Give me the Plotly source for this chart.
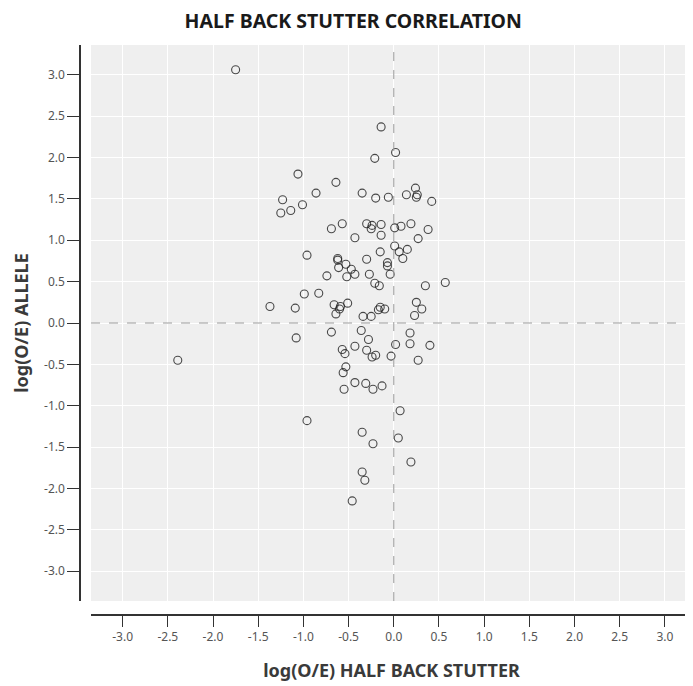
import plotly.graph_objects as go

# log(O/E) HALF BACK STUTTER
stutter = [-1.75, -0.14, -0.21, 0.02, -1.06, -0.64, -0.86, -1.23, -1.01, -1.25,
           -1.14, -0.35, -0.20, -0.06, 0.14, 0.24, 0.26, 0.25, 0.42, -0.69,
           -0.57, -0.30, -0.24, -0.25, -0.14, -0.14, 0.01, 0.08, 0.19, 0.38,
           0.27, -0.43, -0.96, -0.62, -0.62, -0.61, -0.53, -0.47, -0.43, -0.74,
           -0.52, -0.30, -0.27, -0.15, -0.07, -0.07, -0.04, 0.01, 0.06, 0.15,
           0.10, -0.21, -0.16, -0.99, -0.83, -1.37, -1.09, -0.66, -0.59, -0.60,
           -0.51, -0.64, -0.17, -0.15, -0.10, -0.34, -0.25, 0.35, 0.57, 0.25,
           0.31, 0.23, -0.69, -1.08, -0.36, 0.18, -0.28, -0.43, 0.02, 0.18,
           0.40, -0.57, -0.54, -0.30, -0.24, -0.20, -0.03, 0.27, -0.53, -0.56,
           -0.43, -0.31, -0.55, -0.23, -0.13, 0.07, -0.96, -0.35, 0.05, -0.23,
           0.19, -0.35, -0.32, -0.46, -2.39]

# log(O/E) ALLELE
allele = [3.06, 2.37, 1.99, 2.06, 1.80, 1.70, 1.57, 1.49, 1.43, 1.33,
          1.36, 1.57, 1.51, 1.52, 1.55, 1.63, 1.55, 1.52, 1.47, 1.14,
          1.20, 1.20, 1.18, 1.14, 1.19, 1.06, 1.15, 1.17, 1.20, 1.13,
          1.02, 1.03, 0.82, 0.78, 0.76, 0.67, 0.71, 0.65, 0.59, 0.57,
          0.56, 0.77, 0.59, 0.86, 0.73, 0.69, 0.59, 0.93, 0.86, 0.89,
          0.78, 0.48, 0.45, 0.35, 0.36, 0.20, 0.18, 0.22, 0.20, 0.17,
          0.24, 0.11, 0.16, 0.19, 0.17, 0.08, 0.08, 0.45, 0.49, 0.25,
          0.17, 0.09, -0.11, -0.18, -0.09, -0.12, -0.20, -0.28, -0.26, -0.25,
          -0.27, -0.32, -0.37, -0.33, -0.41, -0.39, -0.40, -0.45, -0.53, -0.60,
          -0.72, -0.73, -0.80, -0.80, -0.76, -1.06, -1.18, -1.32, -1.39, -1.46,
          -1.68, -1.80, -1.90, -2.15, -0.45]

tick_vals = [-3.0, -2.5, -2.0, -1.5, -1.0, -0.5, 0.0, 0.5, 1.0, 1.5, 2.0, 2.5, 3.0]
tick_text = ["-3.0", "-2.5", "-2.0", "-1.5", "-1.0", "-0.5", "0.0",
             "0.5", "1.0", "1.5", "2.0", "2.5", "3.0"]

FONT = "Noto Sans"

fig = go.Figure()
fig.add_trace(go.Scatter(
    x=stutter, y=allele, mode="markers",
    marker=dict(symbol="circle-open", size=8,
                color="rgba(30,30,30,0.8)", line=dict(width=1.1)),
    showlegend=False, hoverinfo="x+y",
))

# zero reference lines
fig.add_shape(type="line", xref="x", yref="y domain", x0=0, x1=0, y0=0, y1=1,
              line=dict(color="#9a9a9a", width=1, dash="dash"), layer="above")
fig.add_shape(type="line", xref="x domain", yref="y", x0=0, x1=1, y0=0, y1=0,
              line=dict(color="#9a9a9a", width=1, dash="dash"), layer="above")

# page body has an 8px default margin, so the figure is 8px smaller
fig.update_layout(
    width=685, height=678,
    margin=dict(l=72, r=1, t=37, b=71, autoexpand=False),
    paper_bgcolor="white",
    plot_bgcolor="#efefef",
    font=dict(family=FONT, color="#555555", size=12),
    title=dict(text="<b>HALF BACK STUTTER CORRELATION</b>",
               x=0.504, xanchor="center", y=1, yanchor="top",
               pad=dict(t=6),
               font=dict(family=FONT, size=19.5, color="#1a1a1a")),
    xaxis=dict(
        domain=[0.018, 1], anchor="free", position=0, automargin=False,
        range=[-3.35, 3.3],
        tickmode="array", tickvals=tick_vals, ticktext=tick_text,
        ticks="outside", ticklen=11, tickwidth=1.2, tickcolor="#333333",
        showline=True, linecolor="#333333", linewidth=1.5,
        showgrid=True, gridcolor="#ffffff", gridwidth=1,
        zeroline=False,
        tickfont=dict(size=12, color="#555555"),
        title=dict(text="<b>log(O/E) HALF BACK STUTTER</b>", standoff=19,
                   font=dict(size=18, color="#3a3a3a")),
    ),
    yaxis=dict(
        domain=[0.0245, 1], anchor="free", position=0, automargin=False,
        range=[-3.36, 3.36],
        tickmode="array", tickvals=tick_vals, ticktext=tick_text,
        ticks="outside", ticklen=12, tickwidth=1.2, tickcolor="#333333",
        showline=True, linecolor="#333333", linewidth=1.5,
        showgrid=True, gridcolor="#ffffff", gridwidth=1,
        zeroline=False,
        tickfont=dict(size=12, color="#555555"),
        title=dict(text="<b>log(O/E) ALLELE</b>", standoff=10,
                   font=dict(size=18, color="#3a3a3a")),
    ),
)

fig.write_html("out.html")
